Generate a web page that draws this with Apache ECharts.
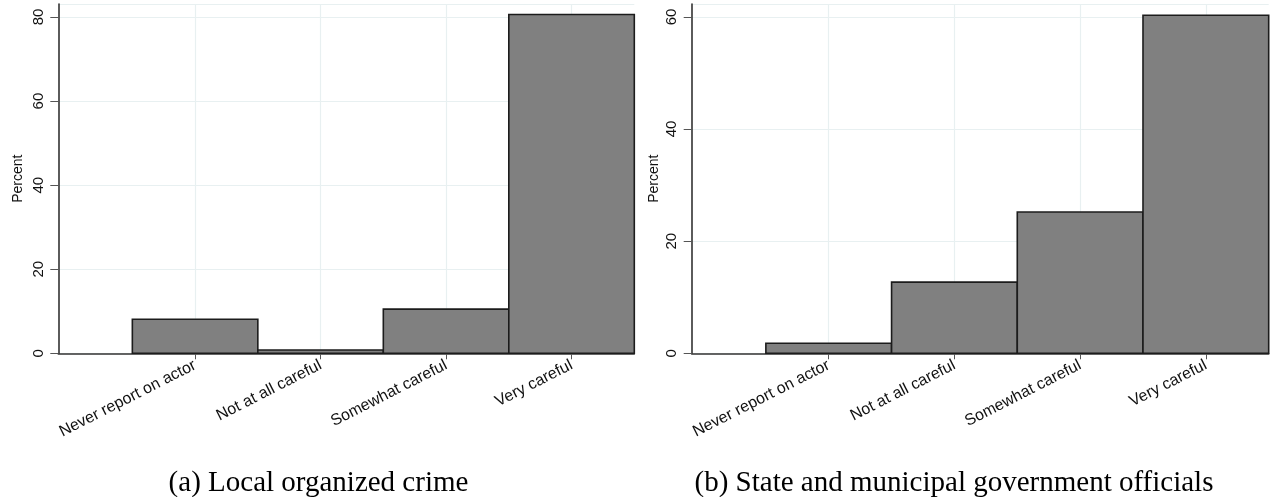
<!DOCTYPE html>
<html>
<head>
<meta charset="utf-8">
<script src="https://cdn.jsdelivr.net/npm/echarts@6/dist/echarts.min.js"></script>
<style>
  html, body { margin: 0; padding: 0; background: #fff; }
  #chart { width: 1270px; height: 497px; }
</style>
</head>
<body>
<div id="chart"></div>
<script>
// Response categories, placed at 1..4 on the horizontal scale
const categories = ['Never report on actor', 'Not at all careful', 'Somewhat careful', 'Very careful'];
const categoryPositions = [1, 2, 3, 4];

// Percent of respondents per category
const crimeValues = [8.1, 0.8, 10.5, 80.6];
const officialValues = [1.8, 12.7, 25.2, 60.3];

// Panel captions
const captions = ['(a) Local organized crime', '(b) State and municipal government officials'];

const sans = 'Liberation Sans, Arial, Helvetica, sans-serif';
const serif = 'Liberation Serif, Times New Roman, serif';
const gridColor = '#e8f0f1';
const axisColor = '#333333';

function seriesData(values) {
  return values.map((v, i) => [categoryPositions[i], v]);
}

// Each bar spans a full unit centred on its category position
function renderBar(params, api) {
  const x = api.value(0);
  const v = api.value(1);
  const topLeft = api.coord([x - 0.5, v]);
  const bottomRight = api.coord([x + 0.5, 0]);
  const rect = echarts.graphic.clipRectByRect({
    x: topLeft[0], y: topLeft[1],
    width: bottomRight[0] - topLeft[0],
    height: bottomRight[1] - topLeft[1]
  }, {
    x: params.coordSys.x, y: params.coordSys.y,
    width: params.coordSys.width, height: params.coordSys.height
  });
  return rect && {
    type: 'rect',
    shape: rect,
    style: { fill: '#808080', stroke: '#1c1c1c', lineWidth: 1.6 }
  };
}

function xAxis(gridIndex) {
  return {
    type: 'value', gridIndex,
    min: -0.09, max: 4.5,
    axisLine: { show: true, onZero: false, lineStyle: { color: axisColor, width: 1.6 } },
    axisTick: { show: true, customValues: categoryPositions, length: 6, lineStyle: { color: '#555', width: 1 } },
    axisLabel: {
      customValues: categoryPositions,
      formatter: v => categories[categoryPositions.indexOf(v)] || '',
      rotate: 27, margin: 11,
      fontFamily: sans, fontSize: 16, color: '#111'
    },
    splitLine: { show: true, lineStyle: { color: gridColor, width: 1.2 } }
  };
}

function yAxis(gridIndex, max, nameGap) {
  return {
    type: 'value', gridIndex,
    min: 0, max, interval: 20,
    name: 'Percent', nameLocation: 'middle', nameGap, nameRotate: 90,
    nameTextStyle: { fontFamily: sans, fontSize: 14, color: '#111' },
    axisLine: { show: true, onZero: false, lineStyle: { color: axisColor, width: 1.6 } },
    axisTick: { show: true, length: 8, lineStyle: { color: '#555', width: 1 } },
    axisLabel: { rotate: 90, margin: 12, fontFamily: sans, fontSize: 15, color: '#111' },
    splitLine: { show: true, lineStyle: { color: gridColor, width: 1.2 } }
  };
}

const chart = echarts.init(document.getElementById('chart'), null, { renderer: 'canvas' });
chart.setOption({
  backgroundColor: '#ffffff',
  animation: false,
  grid: [
    { left: 58.3, top: 4, width: 576, height: 349.3 },
    { left: 691.7, top: 4, width: 577, height: 349.3 }
  ],
  xAxis: [xAxis(0), xAxis(1)],
  yAxis: [yAxis(0, 83.1, 33), yAxis(1, 62.3, 31)],
  series: [
    { type: 'custom', xAxisIndex: 0, yAxisIndex: 0, renderItem: renderBar, data: seriesData(crimeValues), encode: { x: 0, y: 1 } },
    { type: 'custom', xAxisIndex: 1, yAxisIndex: 1, renderItem: renderBar, data: seriesData(officialValues), encode: { x: 0, y: 1 } }
  ],
  graphic: [
    { type: 'text', x: 318.5, y: 483, style: { text: captions[0], font: '29px ' + serif, fill: '#000', textAlign: 'center', textVerticalAlign: 'middle' } },
    { type: 'text', x: 954, y: 483, style: { text: captions[1], font: '29px ' + serif, fill: '#000', textAlign: 'center', textVerticalAlign: 'middle' } }
  ]
});
</script>
</body>
</html>
